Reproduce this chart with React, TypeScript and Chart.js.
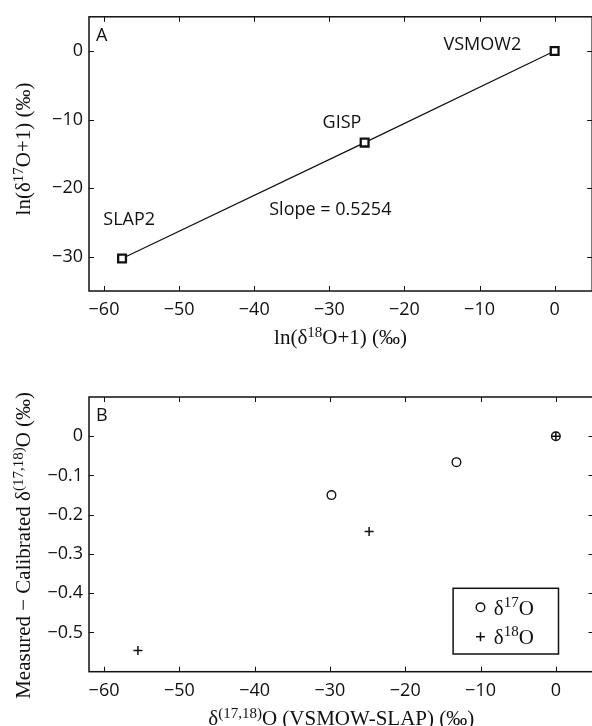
import React, { useEffect, useRef } from 'react';
import { Chart, registerables } from 'chart.js';
Chart.register(...registerables);

// ---------- data ----------
const standardNames = ['SLAP2', 'GISP', 'VSMOW2'];
const lnD18O = [-57.6, -25.3, 0];
const lnD17O = [-30.25, -13.35, 0];
const slopeText = 'Slope = 0.5254';
const xTickValues = [-60, -50, -40, -30, -20, -10, 0];
const topYTickValues = [0, -10, -20, -30];

const d17OStdX = [-29.8, -13.2, 0];
const d17ODiff = [-0.15, -0.066, 0];
const d18OStdX = [-55.5, -24.8, 0];
const d18ODiff = [-0.546, -0.243, 0];
const botYTickValues = [0, -0.1, -0.2, -0.3, -0.4, -0.5];

// annotation anchor points (data coordinates, left edge / vertical middle of text)
const topLabelX = [-60.1, -30.9, -14.8];
const topLabelY = [-24.65, -10.5, 0.9];
const slopeLabelXY = [-38.0, -23.2];

const SANS = '"Open Sans", "DejaVu Sans", sans-serif';
const SERIF = '"Liberation Serif", "DejaVu Serif", serif';
const INK = '#111';
const TITLE_SIZE = 21;

type Seg = { t: string; sup?: boolean };

function richWidth(ctx: CanvasRenderingContext2D, segs: Seg[], size: number) {
  let w = 0;
  for (const s of segs) {
    ctx.font = `${s.sup ? Math.round(size * 0.7) : size}px ${SERIF}`;
    w += ctx.measureText(s.t).width;
  }
  return w;
}

function drawRich(
  ctx: CanvasRenderingContext2D,
  segs: Seg[],
  cx: number,
  cy: number,
  size: number,
  rotate = false,
  align: 'center' | 'left' = 'center'
) {
  ctx.save();
  ctx.translate(cx, cy);
  if (rotate) ctx.rotate(-Math.PI / 2);
  const w = richWidth(ctx, segs, size);
  let x = align === 'center' ? -w / 2 : 0;
  ctx.fillStyle = INK;
  ctx.textAlign = 'left';
  ctx.textBaseline = 'alphabetic';
  const base = size * 0.35;
  for (const s of segs) {
    const fs = s.sup ? Math.round(size * 0.7) : size;
    ctx.font = `${fs}px ${SERIF}`;
    ctx.fillText(s.t, x, base - (s.sup ? size * 0.36 : 0));
    x += ctx.measureText(s.t).width;
  }
  ctx.restore();
}

const minus = (v: any) => String(v).replace('-', '\u2212');

function framePlugin(opts: {
  letter: string;
  xTicks: number[];
  yTicks: number[];
  xTitle: Seg[];
  yTitle: Seg[];
  xTitleY: number;
  yTitleX: number;
  yTitleOffset: number;
  extra?: (chart: any) => void;
}) {
  return {
    id: 'frame' + opts.letter,
    afterDraw(chart: any) {
      const ctx: CanvasRenderingContext2D = chart.ctx;
      const a = chart.chartArea;
      const xs = chart.scales.x;
      const ys = chart.scales.y;
      ctx.save();
      ctx.strokeStyle = INK;
      ctx.lineWidth = 1.5;
      ctx.strokeRect(a.left, a.top, a.right - a.left, a.bottom - a.top);
      ctx.lineWidth = 1;
      const tl = 5;
      ctx.beginPath();
      for (const v of opts.xTicks) {
        const p = Math.round(xs.getPixelForValue(v)) + 0.5;
        ctx.moveTo(p, a.bottom);
        ctx.lineTo(p, a.bottom - tl);
        ctx.moveTo(p, a.top);
        ctx.lineTo(p, a.top + tl);
      }
      for (const v of opts.yTicks) {
        const p = Math.round(ys.getPixelForValue(v)) + 0.5;
        ctx.moveTo(a.left, p);
        ctx.lineTo(a.left + tl, p);
        ctx.moveTo(a.right, p);
        ctx.lineTo(a.right - tl, p);
      }
      ctx.stroke();
      // panel letter
      ctx.fillStyle = INK;
      ctx.font = `18px ${SANS}`;
      ctx.textAlign = 'left';
      ctx.textBaseline = 'middle';
      ctx.fillText(opts.letter, a.left + 7, a.top + 19);
      // titles
      drawRich(ctx, opts.xTitle, (a.left + a.right) / 2, opts.xTitleY, TITLE_SIZE);
      drawRich(ctx, opts.yTitle, opts.yTitleX, (a.top + a.bottom) / 2 + opts.yTitleOffset, TITLE_SIZE, true);
      if (opts.extra) opts.extra(chart);
      ctx.restore();
    },
  };
}

function axisBase(min: number, max: number, ticks: number[], fitSize: number, isY: boolean) {
  return {
    type: 'linear',
    min,
    max,
    grid: { display: false, drawTicks: false },
    border: { display: false },
    ticks: {
      color: INK,
      font: { family: SANS, size: 18 },
      padding: isY ? 6 : 8,
      callback: minus,
      autoSkip: false,
      maxRotation: 0,
    },
    afterBuildTicks: (scale: any) => {
      scale.ticks = ticks.map((v) => ({ value: v }));
    },
    afterFit: (scale: any) => {
      if (isY) scale.width = fitSize;
      else scale.height = fitSize;
    },
  };
}

function TopChart() {
  const ref = useRef<HTMLCanvasElement>(null);
  useEffect(() => {
    const extra = (chart: any) => {
      const ctx: CanvasRenderingContext2D = chart.ctx;
      const xs = chart.scales.x;
      const ys = chart.scales.y;
      ctx.fillStyle = INK;
      ctx.font = `18px ${SANS}`;
      ctx.textAlign = 'left';
      ctx.textBaseline = 'middle';
      standardNames.forEach((n, i) => {
        ctx.fillText(n, xs.getPixelForValue(topLabelX[i]), ys.getPixelForValue(topLabelY[i]));
      });
      ctx.fillText(slopeText, xs.getPixelForValue(slopeLabelXY[0]), ys.getPixelForValue(slopeLabelXY[1]));
    };
    const chart = new Chart(ref.current!, {
      type: 'scatter',
      data: {
        datasets: [
          {
            label: 'standards',
            data: lnD18O.map((x, i) => ({ x, y: lnD17O[i] })),
            showLine: true,
            borderColor: INK,
            borderWidth: 1.2,
            pointStyle: 'rect',
            pointRadius: 5.5,
            pointBorderWidth: 2.3,
            pointBackgroundColor: '#fff',
            pointBorderColor: INK,
          },
        ],
      },
      options: {
        responsive: false,
        animation: false,
        devicePixelRatio: 1,
        layout: { padding: { left: 0, top: 16, right: 6.5, bottom: 0 } },
        plugins: { legend: { display: false }, tooltip: { enabled: false } },
        scales: {
          x: axisBase(-62, 5, xTickValues, 72, false),
          y: axisBase(-35, 5, topYTickValues, 89, true),
        } as any,
      },
      plugins: [
        framePlugin({
          letter: 'A',
          xTicks: xTickValues,
          yTicks: topYTickValues,
          xTitle: [{ t: 'ln(δ' }, { t: '18', sup: true }, { t: 'O+1) (‰)' }],
          yTitle: [{ t: 'ln(δ' }, { t: '17', sup: true }, { t: 'O+1) (‰)' }],
          xTitleY: 337,
          yTitleX: 23,
          yTitleOffset: -5,
          extra,
        }),
      ],
    } as any);
    return () => chart.destroy();
  }, []);
  return <canvas ref={ref} width={600} height={363} style={{ position: 'absolute', left: 0, top: 0 }} />;
}

function BottomChart() {
  const ref = useRef<HTMLCanvasElement>(null);
  useEffect(() => {
    const extra = (chart: any) => {
      const ctx: CanvasRenderingContext2D = chart.ctx;
      const a = chart.chartArea;
      const bx = a.right - 35 - 105.4;
      const by = a.bottom - 17.7 - 65.7;
      ctx.fillStyle = '#fff';
      ctx.fillRect(bx, by, 105.4, 65.7);
      ctx.strokeStyle = INK;
      ctx.lineWidth = 1.5;
      ctx.strokeRect(bx, by, 105.4, 65.7);
      const mx = bx + 27.4;
      const ds = chart.data.datasets;
      // circle
      ctx.lineWidth = 1.4;
      ctx.beginPath();
      ctx.arc(mx, by + 19, 4.3, 0, Math.PI * 2);
      ctx.stroke();
      // plus
      ctx.lineWidth = 1.5;
      ctx.beginPath();
      ctx.moveTo(mx - 4.5, by + 48.4);
      ctx.lineTo(mx + 4.5, by + 48.4);
      ctx.moveTo(mx, by + 43.9);
      ctx.lineTo(mx, by + 52.9);
      ctx.stroke();
      const mk = (lab: string): Seg[] => {
        const m = lab.match(/^δ(\d+)(.*)$/);
        return m ? [{ t: 'δ' }, { t: m[1], sup: true }, { t: m[2] }] : [{ t: lab }];
      };
      drawRich(ctx, mk(ds[0].label), bx + 40.7, by + 19, TITLE_SIZE, false, 'left');
      drawRich(ctx, mk(ds[1].label), bx + 40.7, by + 48.4, TITLE_SIZE, false, 'left');
    };
    const chart = new Chart(ref.current!, {
      type: 'scatter',
      data: {
        datasets: [
          {
            label: 'δ17O',
            data: d17OStdX.map((x, i) => ({ x, y: d17ODiff[i] })),
            pointStyle: 'circle',
            pointRadius: 4.3,
            pointBorderWidth: 1.4,
            pointBackgroundColor: 'rgba(0,0,0,0)',
            pointBorderColor: INK,
          },
          {
            label: 'δ18O',
            data: d18OStdX.map((x, i) => ({ x, y: d18ODiff[i] })),
            pointStyle: 'cross',
            pointRadius: 4.5,
            pointBorderWidth: 1.5,
            pointBorderColor: INK,
          },
        ],
      },
      options: {
        responsive: false,
        animation: false,
        devicePixelRatio: 1,
        layout: { padding: { left: 0, top: 34, right: 6.5, bottom: 0 } },
        plugins: { legend: { display: false }, tooltip: { enabled: false } },
        scales: {
          x: axisBase(-62, 5, xTickValues, 54.3, false),
          y: axisBase(-0.6, 0.1, botYTickValues, 89, true),
        } as any,
      },
      plugins: [
        framePlugin({
          letter: 'B',
          xTicks: xTickValues,
          yTicks: botYTickValues,
          xTitle: [{ t: 'δ' }, { t: '(17,18)', sup: true }, { t: 'O (VSMOW-SLAP) (‰)' }],
          yTitle: [{ t: 'Measured \u2212 Calibrated δ' }, { t: '(17,18)', sup: true }, { t: 'O (‰)' }],
          xTitleY: 355,
          yTitleX: 23,
          yTitleOffset: 11,
          extra,
        }),
      ],
    } as any);
    return () => chart.destroy();
  }, []);
  return <canvas ref={ref} width={600} height={363} style={{ position: 'absolute', left: 0, top: 363 }} />;
}

export default function App() {
  return (
    <div
      style={{
        position: 'absolute',
        left: 0,
        top: 0,
        width: 592,
        height: 726,
        overflow: 'hidden',
        background: '#fff',
      }}
    >
      <TopChart />
      <BottomChart />
    </div>
  );
}
